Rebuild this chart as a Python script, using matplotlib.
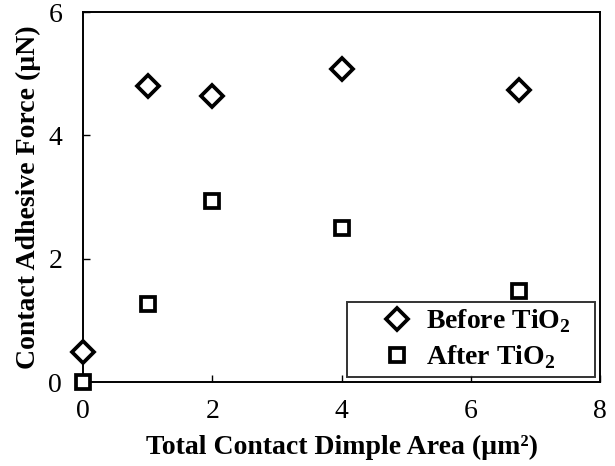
import matplotlib
matplotlib.use("Agg")
import matplotlib.pyplot as plt

plt.rcParams['font.family'] = ['Liberation Serif', 'DejaVu Serif']
plt.rcParams['mathtext.fontset'] = 'custom'
plt.rcParams['mathtext.rm'] = 'Liberation Serif'
plt.rcParams['mathtext.bf'] = 'Liberation Serif:bold'

# total contact dimple area (um^2)
area = [0.0, 1.0, 2.0, 4.0, 6.75]
# contact adhesive force (uN)
force_before = [0.49, 4.80, 4.63, 5.07, 4.74]
force_after = [0.0, 1.27, 2.94, 2.49, 1.48]

labels = [r'Before TiO$_\mathbf{2}$', r'After TiO$_\mathbf{2}$']

fig = plt.figure(figsize=(6.15, 4.66), dpi=100)
ax = fig.add_axes([83 / 615, 1 - 382 / 466, 517 / 615, 370 / 466])

ax.plot(area, force_before, ls='none', marker='D', ms=11, mfc='white',
        mec='black', mew=2.7, label=labels[0], clip_on=False, zorder=3)
ax.plot(area, force_after, ls='none', marker='s', ms=10, mfc='white',
        mec='black', mew=2.7, label=labels[1], clip_on=False, zorder=3)

ax.set_xlim(0, 8)
ax.set_ylim(0, 6)
ax.set_xticks([0, 2, 4, 6, 8])
ax.set_yticks([0, 2, 4, 6])
ax.tick_params(direction='in', length=5, width=1, labelsize=20,
               top=False, right=False)
ax.tick_params(axis='y', pad=15)
ax.tick_params(axis='x', pad=12)
for s in ax.spines.values():
    s.set_linewidth(1.4)

ax.set_xlabel('Total Contact Dimple Area (µm²)', fontsize=20,
              fontweight='bold', labelpad=8)
ax.set_ylabel('Contact Adhesive Force (µN)', fontsize=20,
              fontweight='bold', labelpad=5)

leg = ax.legend(loc='lower left', bbox_to_anchor=(0.511, 0.0135, 0.479, 0.2),
                mode='expand', prop={'size': 20, 'weight': 'bold'},
                frameon=True, fancybox=False, edgecolor='black',
                borderaxespad=0, borderpad=0.2, handlelength=3.2,
                handletextpad=-0.55, labelspacing=0.3, numpoints=1)
leg.get_frame().set_linewidth(1.4)

fig.savefig('out.png', dpi=100)
